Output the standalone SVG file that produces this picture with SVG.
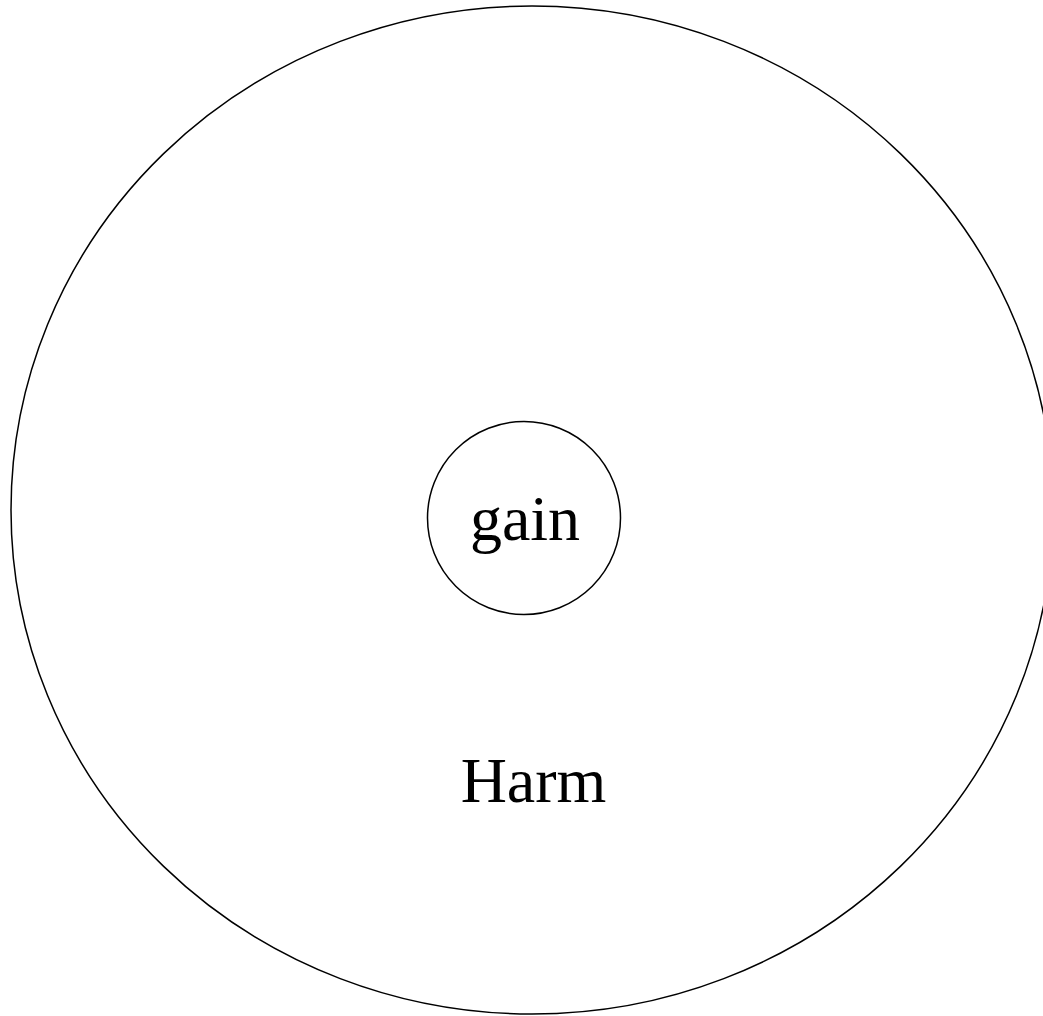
<svg xmlns="http://www.w3.org/2000/svg" width="1043" height="1016" viewBox="0 0 1043 1016">
<style>
.shape{fill:none;stroke:#000;stroke-width:1.5}
.lbl{font-family:"Liberation Serif","Times New Roman",serif;font-size:64px;fill:#000;text-anchor:middle}
</style>
<rect width="1043" height="1016" fill="#fff"/>
<g id="harm">
<ellipse class="shape" cx="532" cy="510" rx="521" ry="504"/>
<text class="lbl" x="533.5" y="802">Harm</text>
</g>
<g id="gain">
<circle class="shape" cx="524" cy="518" r="96.5"/>
<text class="lbl" x="525" y="540">gain</text>
</g>
<g id="connectors"></g>
</svg>
